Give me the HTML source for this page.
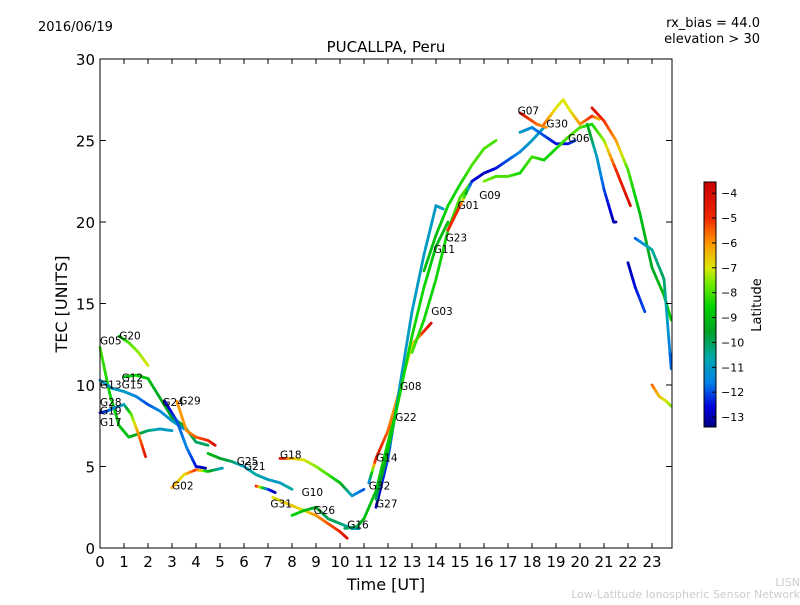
<!DOCTYPE html>
<html><head><meta charset="utf-8">
<style>
body{margin:0;background:#fff;font-family:"Liberation Sans","DejaVu Sans",sans-serif;}
svg text{font-family:"DejaVu Sans","Liberation Sans",sans-serif;}
</style></head>
<body>
<svg id="chart" width="800" height="600" viewBox="0 0 800 600">
<rect width="800" height="600" fill="#fff"/>
<text x="38" y="31" font-size="13">2016/06/19</text>
<text x="760" y="27" font-size="13" text-anchor="end">rx_bias = 44.0</text>
<text x="760" y="43" font-size="13" text-anchor="end">elevation &gt; 30</text>
<text x="386" y="52" font-size="15" text-anchor="middle">PUCALLPA, Peru</text>
<text x="386" y="590" font-size="16" text-anchor="middle">Time [UT]</text>
<text x="67" y="304" font-size="16" text-anchor="middle" transform="rotate(-90 67 304)">TEC [UNITS]</text>
<text x="761" y="305" font-size="13" text-anchor="middle" transform="rotate(-90 761 305)">Latitude</text>
<text x="800" y="586" font-size="11" fill="#ccc" text-anchor="end">LISN</text>
<text x="800" y="598" font-size="11" fill="#ccc" text-anchor="end">Low-Latitude Ionospheric Sensor Network</text>
<g id="tracks"></g>
<g id="labels"></g>
<g id="axes"></g>
<g id="cbar"></g>
</svg>
<script>
const xTicks=[0,1,2,3,4,5,6,7,8,9,10,11,12,13,14,15,16,17,18,19,20,21,22,23];
const yTicks=[0,5,10,15,20,25,30];
const cbTicks=[-4,-5,-6,-7,-8,-9,-10,-11,-12,-13];
const trackNames=["G05","G20","G12","G15","G17","G24","G29","G02","G25","G31","G18","G10","G26","G16","G14","G27","G08","G03","G23","G09","G07","G30","G06","T24","T25","T26","T27","T28","T29"];
const trackTimes=[
[0,0.4,0.8,1.2,1.6,2,2.5,3],
[0.8,1.2,1.6,2],
[1,1.5,2,2.5,3,3.5,4,4.5],
[0,0.5,1,1.5,2,2.5,3,3.5],
[0,0.3,0.6,1,1.3,1.6,1.9],
[2.7,3.2,3.6,4,4.4],
[3.2,3.6,4,4.5,4.8],
[3,3.5,4,4.5,5.1],
[4.5,5,5.5,6,6.5,7,7.5,8],
[6.5,7,7.3],
[7.5,8,8.5,9,9.5,10,10.5,11],
[7.2,8,8.5,9,9.5,10,10.3],
[8,8.5,9,9.5,10,10.5,10.8],
[10.2,10.7,11,11.5,12,12.5],
[11.2,11.5,12,12.5,13,13.5,13.8],
[11.5,12,12.5,13,13.5,14,14.3],
[11.5,12,12.5,13,13.5,14,14.5],
[13,13.5,14,14.5,15,15.5],
[13.5,14,14.5,15,15.5,16,16.5],
[14.5,15,15.5,16,16.5,17,17.5,18,18.5],
[17.5,17.8,18.2,18.6],
[18.5,19,19.3,19.6,20,20.5,20.8],
[17.5,18,18.5,19,19.5,19.8],
[16,16.5,17,17.5,18,18.5,19,19.5,20,20.5,21,21.5,22.1],
[20.3,20.7,21,21.4,21.5],
[20.5,21,21.5,22,22.5,23,23.5,23.8],
[22.3,22.7,23,23.5,23.8],
[22,22.3,22.7],
[23,23.3,23.6,23.8]];
const trackTec=[
[12.3,9.5,7.5,6.8,7,7.2,7.3,7.2],
[13,12.6,12,11.2],
[10.5,10.6,10.4,9.2,8,7.5,6.5,6.3],
[10.3,9.8,9.6,9.3,8.8,8.4,7.8,7.3],
[8.3,8.4,8.6,8.8,8.2,7,5.6],
[9,7.8,6.2,5,4.9],
[9,7.2,6.8,6.6,6.3],
[3.7,4.5,4.8,4.7,4.9],
[5.8,5.5,5.3,5,4.5,4.2,4,3.6],
[3.8,3.6,3.4],
[5.5,5.5,5.4,5,4.5,4,3.2,3.6],
[3.1,2.6,2.3,2,1.5,1,0.6],
[2,2.3,2.5,1.8,1.5,1.2,1.2],
[1.2,1.3,1.8,3.5,6.5,9.5],
[4,5.5,7.2,9.8,12.5,13.3,13.8],
[2.5,5.5,10,14.5,18,21,20.8],
[3,6,9.5,13,16,18.5,20],
[12,14,16.5,19.5,21.5,22.5],
[17,19.2,21,22.3,23.5,24.5,25],
[19.5,21,22.5,23,23.3,23.8,24.3,25,25.8],
[26.7,26.4,26,25.8],
[26,27,27.5,26.8,26,26.5,26.3],
[25.5,25.8,25.3,24.8,24.8,25],
[22.5,22.8,22.8,23,24,23.8,24.5,25.2,25.8,26,25,23.2,21],
[26,24,22,20,20],
[27,26.2,25,23.2,20.5,17.2,15.5,14],
[19,18.6,18.3,16.5,11],
[17.5,16,14.5],
[10,9.3,9,8.7]];
const trackLat=[
[-8,-8.5,-9,-9,-9.5,-10,-11,-11],
[-9,-8,-7.5,-7],
[-9,-8.5,-9,-9.5,-9.5,-9.5,-10,-10],
[-11,-11,-11,-11.5,-12,-11.5,-11,-11],
[-12.5,-12,-11.5,-11,-8,-6,-4.5],
[-13,-12,-11.5,-12.5,-13],
[-6,-6,-5.5,-5,-4],
[-6,-7,-5,-9,-11],
[-9,-9.5,-10,-11,-10.5,-11,-11,-10.5],
[-4,-12,-13],
[-4,-6.5,-7,-7.5,-8,-9,-11,-12],
[-7,-6.5,-7,-6,-5.5,-5,-4],
[-8.5,-9,-9.5,-10,-10,-11,-11],
[-10,-10,-9,-9,-8.5,-8],
[-12,-4.5,-5.5,-6.5,-7,-5,-4],
[-13,-12,-11,-11,-11,-11,-11],
[-10,-9,-8.5,-8.5,-8.5,-9,-9],
[-8,-8.5,-8.5,-8.5,-8,-8],
[-9,-9,-8.5,-8.5,-8,-8,-8],
[-5,-5,-12.5,-13,-12.5,-12,-11.5,-11,-11],
[-4,-5,-5.5,-6],
[-5.5,-7,-7,-7,-6,-5,-6.5],
[-11,-11.5,-12,-12.5,-12.5,-12],
[-7.5,-8,-8,-8.5,-8,-8.5,-8.5,-8,-8,-8.5,-7.5,-5,-4],
[-9,-11,-12,-13,-13],
[-4,-5,-6,-8,-9,-9.5,-9,-8.5],
[-12,-11,-10.5,-10,-12],
[-13,-12.5,-12],
[-5.5,-6.5,-7,-7.5]];
const labelNames=["G05","G20","G12","G13","G15","G28","G19","G17","G24","G29","G02","G25","G21","G18","G31","G10","G26","G16","G14","G32","G27","G08","G22","G03","G11","G23","G01","G09","G07","G30","G06"];
const labelTimes=[0,0.8,0.9,0,0.9,0,0,0,2.6,3.3,3,5.7,6,7.5,7.1,8.4,8.9,10.3,11.5,11.2,11.5,12.5,12.3,13.8,13.9,14.4,14.9,15.8,17.4,18.6,19.5];
const labelTecs=[12.5,12.8,10.2,9.8,9.8,8.7,8.2,7.5,8.7,8.8,3.6,5.1,4.8,5.5,2.5,3.2,2.1,1.2,5.3,3.6,2.5,9.7,7.8,14.3,18.1,18.8,20.8,21.4,26.6,25.8,24.9];

const X0=100,PXH=24,Y0=548,PXU=16.3;
const xs=t=>X0+t*PXH, ys=v=>Y0-v*PXU;
const CBMIN=-13.4,CBMAX=-3.55,CBTOP=182,CBBOT=427;
const cy=l=>CBBOT-(l-CBMIN)/(CBMAX-CBMIN)*(CBBOT-CBTOP);
const stops=[[-13.4,0,0,130],[-12.6,0,0,220],[-11.6,0,130,230],[-10.6,0,170,170],[-9.6,0,160,40],[-8.6,0,210,0],[-7.6,120,235,0],[-7,220,230,0],[-6,255,150,0],[-5,240,40,0],[-3.55,200,0,0]];
function jet(l){
 l=Math.max(CBMIN,Math.min(CBMAX,l));
 for(let i=0;i<stops.length-1;i++){
  const a=stops[i],b=stops[i+1];
  if(l<=b[0]){const f=(l-a[0])/(b[0]-a[0]);
   return `rgb(${Math.round(a[1]+(b[1]-a[1])*f)},${Math.round(a[2]+(b[2]-a[2])*f)},${Math.round(a[3]+(b[3]-a[3])*f)})`;}
 }
 return 'rgb(200,0,0)';
}
const NS="http://www.w3.org/2000/svg";
function mk(tag,attrs,parent){const e=document.createElementNS(NS,tag);for(const k in attrs)e.setAttribute(k,attrs[k]);parent.appendChild(e);return e;}

const tg=document.getElementById('tracks');
trackNames.forEach((n,i)=>{
 const g=mk('g',{},tg);
 
 
 const T=trackTimes[i],V=trackTec[i],L=trackLat[i];
 for(let j=0;j<T.length-1;j++){
  const steps=6;
  for(let s=0;s<steps;s++){
   const a=s/steps,b=(s+1)/steps;
   const l=L[j]+(L[j+1]-L[j])*(a+b)/2;
   const ln=mk('line',{x1:xs(T[j]+(T[j+1]-T[j])*a),y1:ys(V[j]+(V[j+1]-V[j])*a),x2:xs(T[j]+(T[j+1]-T[j])*b),y2:ys(V[j]+(V[j+1]-V[j])*b),stroke:jet(l),'stroke-width':2.8,'stroke-linecap':'round'},g);
   
   
  }
 }
});
const lg=document.getElementById('labels');
labelNames.forEach((n,i)=>{
 const t=mk('text',{x:xs(labelTimes[i]),y:ys(labelTecs[i]),'font-size':10.5},lg);
 t.textContent=n;
 
 
});
const ag=document.getElementById('axes');
const fr=mk('rect',{x:100,y:59,width:572,height:489,fill:'none',stroke:'#000','stroke-width':1},ag);


xTicks.forEach(t=>{
 const x=xs(t);
 mk('line',{x1:x,y1:548,x2:x,y2:543,stroke:'#000'},ag);
 mk('line',{x1:x,y1:59,x2:x,y2:64,stroke:'#000'},ag);
 const tx=mk('text',{x:x,y:567,'font-size':15,'text-anchor':'middle'},ag);
 tx.textContent=t;
 
 
});
yTicks.forEach(v=>{
 const y=ys(v);
 mk('line',{x1:100,y1:y,x2:106,y2:y,stroke:'#000'},ag);
 mk('line',{x1:672,y1:y,x2:666,y2:y,stroke:'#000'},ag);
 const tx=mk('text',{x:95,y:y+6,'font-size':15,'text-anchor':'end'},ag);
 tx.textContent=v;
 
 
});
const cg=document.getElementById('cbar');
for(let y=CBTOP;y<CBBOT;y++){
 const l=CBMIN+(CBBOT-y-0.5)/(CBBOT-CBTOP)*(CBMAX-CBMIN);
 mk('rect',{x:704,y:y,width:12,height:1.2,fill:jet(l)},cg);
}
const cr=mk('rect',{x:704,y:CBTOP,width:12,height:CBBOT-CBTOP,fill:'none',stroke:'#000'},cg);


cbTicks.forEach(l=>{
 const y=cy(l);
 mk('line',{x1:712,y1:y,x2:716,y2:y,stroke:'#000'},cg);
 const tx=mk('text',{x:721,y:y+4,'font-size':11},cg);
 tx.textContent='\u2212'+Math.abs(l);
 
 
});
</script>
</body></html>
